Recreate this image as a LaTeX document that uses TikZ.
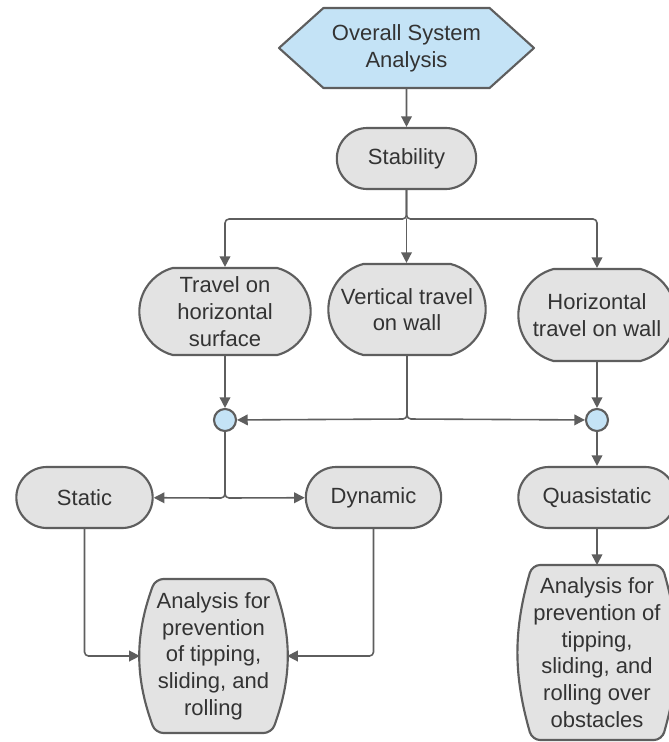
\documentclass[tikz,border=0pt]{standalone}
\usepackage{fontspec}
\setmainfont{Liberation Sans}
\usetikzlibrary{arrows.meta,shapes.misc,shapes.symbols,backgrounds}
\definecolor{edgegray}{HTML}{5E5E5E}
\definecolor{boxgray}{HTML}{E3E3E3}
\definecolor{paleblue}{HTML}{C4E3F6}
\definecolor{inkgray}{HTML}{333333}
\begin{document}
\begin{tikzpicture}[x=0.75pt,y=-0.75pt,line cap=round,line join=round,>={Triangle[length=8pt,width=8pt]},
  every node/.style={font=\fontsize{16.5}{20}\selectfont,text=inkgray,align=center,inner sep=1pt},
  termbox/.style={rounded rectangle,rounded rectangle arc length=#1,draw=edgegray,line width=1.6pt,fill=boxgray},
  termbox/.default=180,
  barrel/.style={rectangle,outer ysep=0pt,outer xsep=#1},
  barrelline/.style={draw=edgegray,line width=1.6pt,fill=boxgray,rounded corners=6pt},
  hexbox/.style={signal,signal to=west and east,signal pointer angle=84,draw=edgegray,line width=1.6pt,fill=paleblue},
  dot/.style={circle,draw=edgegray,line width=1.6pt,fill=paleblue,minimum size=16.5pt,inner sep=0pt},
  link/.style={draw=edgegray,line width=1.2pt,rounded corners=3pt}]
  \useasboundingbox (0,0) rectangle (668,742);
  \node[hexbox,minimum width=191.25pt,minimum height=60pt] (overall) at (406.5,48) {Overall System\\Analysis};
  \node[termbox,minimum width=106.5pt,minimum height=45.75pt] (stab) at (406.5,158.5) {Stability};
  \node[termbox=150,minimum width=130.5pt,minimum height=65.25pt] (horsurf) at (225,311.5) {Travel on\\horizontal\\surface};
  \node[termbox=150,minimum width=120pt,minimum height=68.25pt] (vertwall) at (407,309.5) {Vertical travel\\on wall};
  \node[termbox=150,minimum width=120pt,minimum height=69pt] (horwall) at (597,315) {Horizontal\\travel on wall};
  \node[dot] (dotl) at (225,420) {};
  \node[dot] (dotr) at (597,420) {};
  \node[termbox,minimum width=104.25pt,minimum height=45.75pt] (static) at (84.5,497.5) {Static};
  \node[termbox,minimum width=103.5pt,minimum height=45.75pt] (dynamic) at (373.5,497.5) {Dynamic};
  \node[termbox,minimum width=120pt,minimum height=45.75pt] (quasi) at (597,497.5) {Quasistatic};
  \node[barrel=11.6pt,minimum width=84pt,minimum height=115.5pt] (anal) at (213.5,656) {Analysis for\\prevention\\of tipping,\\sliding, and\\rolling};
  \node[barrel=10.6pt,minimum width=90pt,minimum height=131.25pt] (anar) at (597,652.5) {Analysis for\\prevention of\\tipping,\\sliding, and\\rolling over\\obstacles};
  \begin{scope}[on background layer]
    \draw[barrelline] ([xshift=11.6pt]anal.north west) to[bend right=20] ([xshift=11.6pt]anal.south west)
      -- ([xshift=-11.6pt]anal.south east) to[bend right=20] ([xshift=-11.6pt]anal.north east) -- cycle;
    \draw[barrelline] ([xshift=10.6pt]anar.north west) to[bend right=16] ([xshift=10.6pt]anar.south west)
      -- ([xshift=-10.6pt]anar.south east) to[bend right=16] ([xshift=-10.6pt]anar.north east) -- cycle;
  \end{scope}
  \coordinate (splittop) at (406.5,219);
  \coordinate (splitmid) at (407,419);
  \coordinate (splitlow) at (225,498);
  \draw[link,->] (overall) -- (stab);
  \draw[link,->] (stab.south) -- (splittop) -| (horsurf.north);
  \draw[link,->] (stab.south) -- (splittop) -| (horwall.north);
  \draw[link,->] (splittop) -- (splittop |- vertwall.north);
  \draw[link,->] (horsurf) -- (dotl);
  \draw[link,->] (horwall.south -| dotr) -- (dotr);
  \draw[link,->] (vertwall.south) -- (splitmid) -- (dotl);
  \draw[link,->] (vertwall.south) -- (splitmid) -- (dotr);
  \draw[link,->] (dotl) -- (splitlow) -- (static);
  \draw[link,->] (dotl) -- (splitlow) -- (dynamic);
  \draw[link,->] (dotr) -- (quasi);
  \draw[link,->] (quasi) -- (anar);
  \draw[link,->] (static.south) |- (anal);
  \draw[link,->] (dynamic.south) |- (anal);
\end{tikzpicture}
\end{document}
